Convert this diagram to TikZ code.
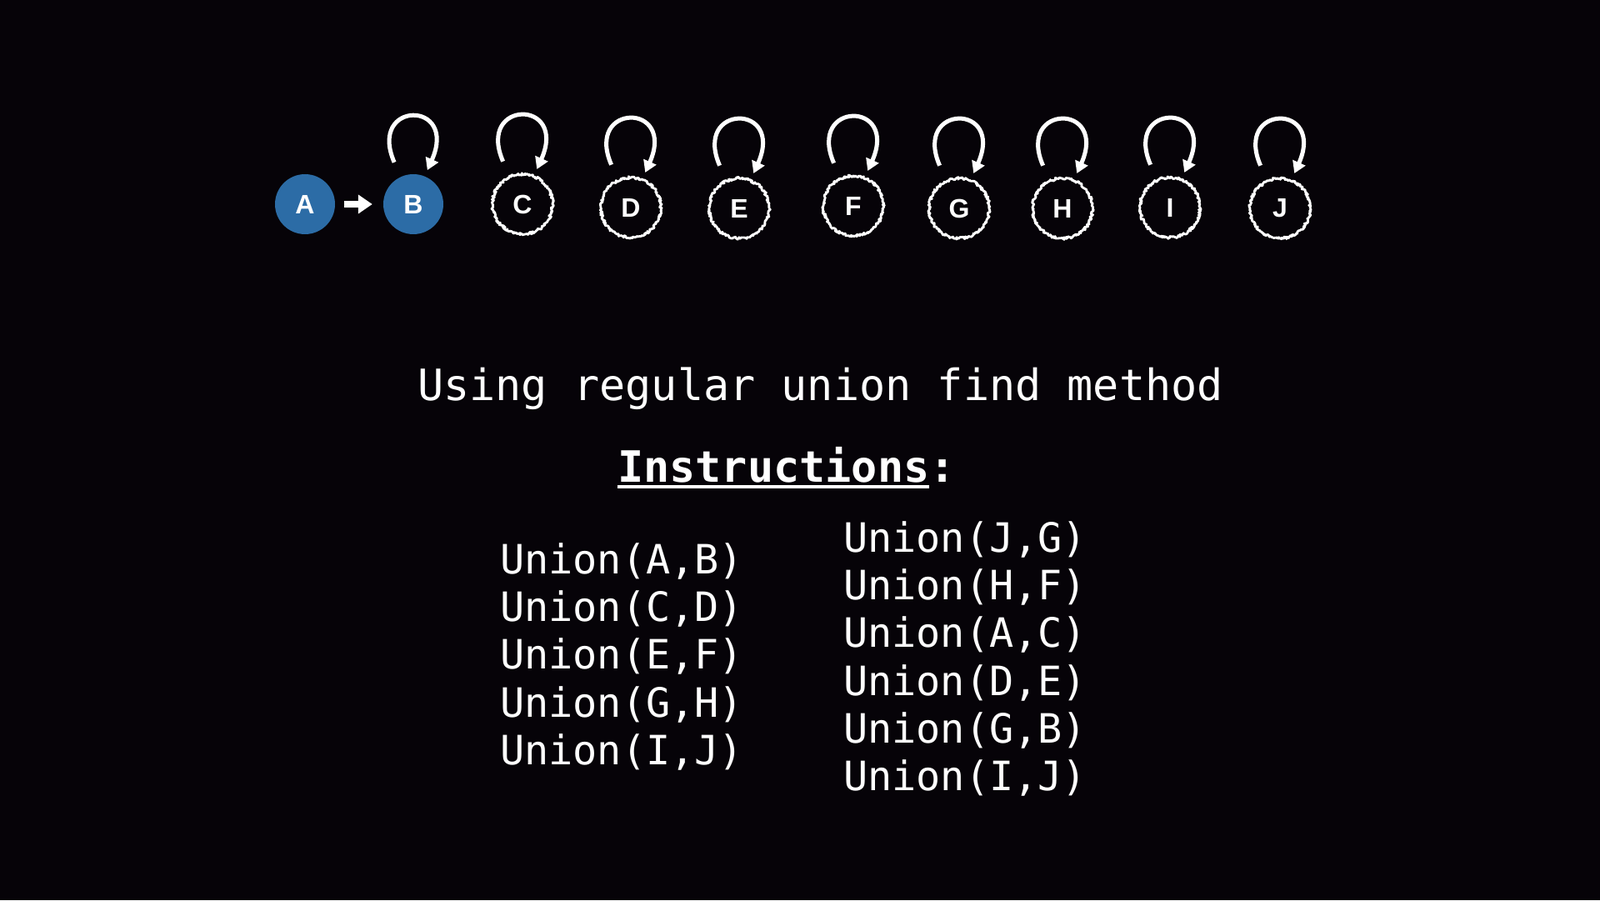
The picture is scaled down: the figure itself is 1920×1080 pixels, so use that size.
\documentclass[tikz,border=0pt]{standalone}
\usepackage{fontspec}
\usepackage{tikz}
\usetikzlibrary{arrows.meta, decorations.pathmorphing}
\newfontfamily\codefont{DejaVu Sans Mono}
\newfontfamily\labelfont{Liberation Sans}
\definecolor{bgblack}{RGB}{6,3,8}
\definecolor{setblue}{RGB}{44,108,166}
\newcommand{\ulbox}[1]{\setbox0\hbox{#1}\rlap{\rule[-7pt]{\wd0}{4pt}}\box0}

\tikzset{
  root/.style={circle, minimum size=72pt, inner sep=0pt, text=white, font=\labelfont\bfseries\fontsize{32}{32}\selectfont},
  ring/.style={root, draw=white, line width=2.8pt, line join=round, decorate, decoration={random steps, segment length=1.2pt, amplitude=1.5pt}},
  filled/.style={root, fill=setblue},
  selfloop/.style={white, line width=5pt, -{Triangle[width=16pt,length=14pt]}, shorten <=19pt, shorten >=8pt},
  linkarrow/.style={white, line width=8pt, -{Triangle[width=22pt,length=17pt]}, shorten <=11pt, shorten >=13pt},
  code/.style={text=white, inner sep=0pt, anchor=base west, font=\codefont\fontsize{48.5}{57}\selectfont}
}

\begin{document}
\begin{tikzpicture}[x=1pt, y=1pt]
\fill[bgblack] (0,0) rectangle (1920,1080);
% roots
\node[filled] (nA) at (366,835) {A};
\node[filled] (nB) at (496,835) {B};
\draw[linkarrow] (nA) -- (nB);
\draw[selfloop] (nB.115) .. controls +(-40,92) and +(41,92) .. (nB.68);
\foreach \n/\x/\y in {C/627/835, D/757/831, E/887/830, F/1024/833, G/1151/830, H/1275/830, I/1404/831, J/1536/830} {
  \node[ring] (n\n) at (\x,\y) {\n};
  \draw[selfloop] (n\n.115) .. controls +(-40,92) and +(41,92) .. (n\n.68);
}
% text
\node[code, font=\codefont\fontsize{51.8}{60}\selectfont] (title) at (501,599) {Using regular union find method};
\node[code, font=\codefont\bfseries\fontsize{51.8}{60}\selectfont] (instr) at (741,501) {\ulbox{Instructions}:};
\foreach \p [count=\i] in {{A,B},{C,D},{E,F},{G,H},{I,J}}
  \node[code] (l\i) at (600,{391-57*(\i-1)}) {Union(\p)};
\foreach \p [count=\i] in {{J,G},{H,F},{A,C},{D,E},{G,B},{I,J}}
  \node[code] (r\i) at (1012,{417-57*(\i-1)}) {Union(\p)};
\end{tikzpicture}
\end{document}
